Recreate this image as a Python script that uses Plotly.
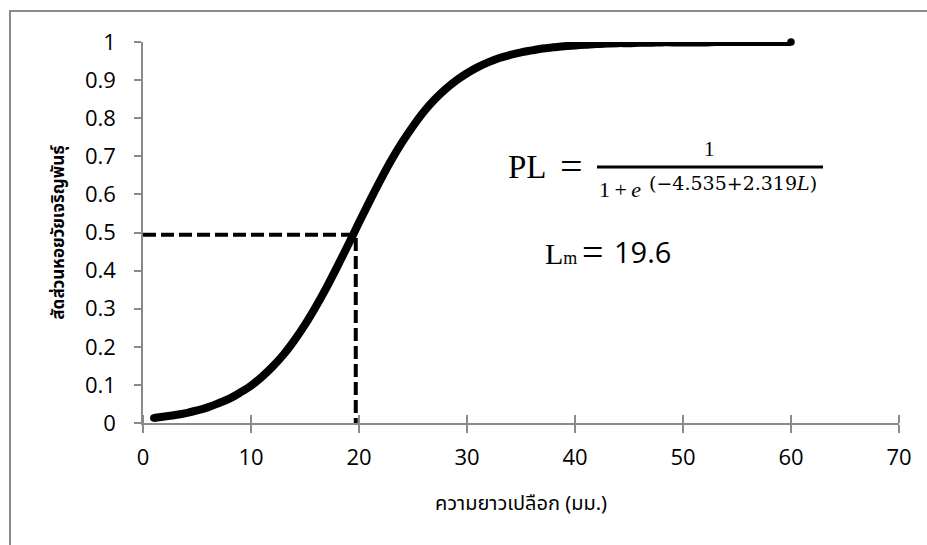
import plotly.graph_objects as go

# Shell length (mm) and proportion of mature snails
length_mm = list(range(1, 61))
prop_mature = [0.013, 0.017, 0.021, 0.026, 0.033, 0.041, 0.052, 0.064, 0.080, 0.098,
               0.121, 0.148, 0.179, 0.216, 0.258, 0.305, 0.356, 0.411, 0.468, 0.526,
               0.583, 0.638, 0.690, 0.737, 0.779, 0.817, 0.849, 0.876, 0.899, 0.918,
               0.934, 0.947, 0.958, 0.966, 0.973, 0.978, 0.983, 0.986, 0.989, 0.991,
               0.993, 0.995, 0.996, 0.997, 0.997, 0.998, 0.998, 0.999, 0.999, 0.999,
               0.999, 0.999, 1.000, 1.000, 1.000, 1.000, 1.000, 1.000, 1.000, 1.000]

# L50 guide lines
guide_x = [0, 19.7, 19.7]
guide_y = [0.494, 0.494, 0]

x_ticks = [0, 10, 20, 30, 40, 50, 60, 70]
y_ticks = [0, 0.1, 0.2, 0.3, 0.4, 0.5, 0.6, 0.7, 0.8, 0.9, 1]
y_ticktext = ["0", "0.1", "0.2", "0.3", "0.4", "0.5", "0.6", "0.7", "0.8", "0.9", "1"]

x_title = "ความยาวเปลือก (มม.)"
y_title = "สัดส่วนหอยวัยเจริญพันธุ์"

GRAY = "#8a8a8a"
THAI = "Noto Sans Thai, Tahoma, Leelawadee UI, sans-serif"
SERIF = "Liberation Serif, Times New Roman, serif"
TICKFONT = dict(family="Open Sans, sans-serif", size=22, color="#000")

W, H = 927, 545
L, R, T, B = 143, 28, 42, 122
pw, ph = W - L - R, H - T - B


def fx(px):
    return (px - L) / pw


def fy(py):
    return (H - B - py) / ph


fig = go.Figure()
fig.add_trace(go.Scatter(x=guide_x, y=guide_y, mode="lines",
                         line=dict(color="black", width=4, dash="13px,5px"),
                         showlegend=False, hoverinfo="skip"))
fig.add_trace(go.Scatter(x=length_mm, y=prop_mature, mode="lines",
                         line=dict(color="black", width=8, shape="spline"),
                         cliponaxis=False, showlegend=False))
# round caps at both ends of the curve
fig.add_trace(go.Scatter(x=[length_mm[0], length_mm[-1]],
                         y=[prop_mature[0], prop_mature[-1]], mode="markers",
                         marker=dict(color="black", size=7.5, line=dict(width=0)),
                         cliponaxis=False, showlegend=False, hoverinfo="skip"))
fig.add_trace(go.Scatter(x=[None], y=[None], xaxis="x2", showlegend=False,
                         hoverinfo="skip"))

ann = [
    dict(text="PL", x=fx(549), y=fy(167), xanchor="right", yanchor="middle",
         font=dict(family=SERIF, size=33, color="#000")),
    dict(text="=", x=fx(571.5), y=fy(166), xanchor="center", yanchor="middle",
         font=dict(family=SERIF, size=40, color="#000")),
    dict(text="1", x=fx(709), y=fy(149), xanchor="center", yanchor="middle",
         font=dict(family=SERIF, size=21, color="#000")),
    dict(text="1\u2009+\u2009<i>e</i>", x=fx(597), y=fy(189), xanchor="left",
         yanchor="middle", font=dict(family=SERIF, size=22, color="#000")),
    dict(text="(−4.535+2.319<i>L</i>)", x=fx(647), y=fy(183), xanchor="left",
         yanchor="middle", font=dict(family="DejaVu Serif, serif", size=19, color="#000")),
    dict(text="L<span style='font-size:18px'>m</span>", x=fx(543), y=fy(253),
         xanchor="left", yanchor="middle", font=dict(family=SERIF, size=30, color="#000")),
    dict(text="=", x=fx(592), y=fy(252), xanchor="center", yanchor="middle",
         font=dict(family=SERIF, size=38, color="#000")),
    dict(text="19.6", x=fx(612), y=fy(251), xanchor="left", yanchor="middle",
         font=dict(family="Open Sans, sans-serif", size=29, color="#000")),
]
for a in ann:
    a.update(xref="paper", yref="paper", showarrow=False)

shapes = [
    dict(type="rect", xref="paper", yref="paper", x0=fx(10), x1=fx(940),
         y0=fy(560), y1=fy(11), line=dict(color=GRAY, width=2), layer="below"),
    dict(type="line", xref="paper", yref="paper", x0=fx(597), x1=fx(823),
         y0=fy(167), y1=fy(167), line=dict(color="black", width=3)),
]

fig.update_layout(
    width=W, height=H,
    margin=dict(l=L, r=R, t=T, b=B, autoexpand=False),
    paper_bgcolor="white", plot_bgcolor="white",
    annotations=ann, shapes=shapes,
    xaxis=dict(range=[0, 70], tickvals=x_ticks, ticks="outside", ticklen=8,
               tickwidth=1.5, tickcolor=GRAY, showline=True, linecolor=GRAY,
               linewidth=1.5, showgrid=False, zeroline=False, tickfont=TICKFONT,
               ticklabelstandoff=6, automargin=False,
               title=dict(text=x_title, standoff=26,
                          font=dict(family=THAI, size=20, color="#000"))),
    xaxis2=dict(range=[0, 70], overlaying="x", anchor="free", position=0,
                side="top", tickvals=x_ticks, ticks="outside", ticklen=8,
                tickwidth=1.5, tickcolor=GRAY, showticklabels=False,
                showline=False, showgrid=False, zeroline=False),
    yaxis=dict(range=[0, 1], tickvals=y_ticks, ticktext=y_ticktext,
               ticks="outside", ticklen=7, tickwidth=1.5, tickcolor=GRAY,
               showline=True, linecolor=GRAY, linewidth=1.5, showgrid=False,
               zeroline=False, tickfont=TICKFONT, ticklabelstandoff=14,
               automargin=False,
               title=dict(text="<b>" + y_title + "</b>", standoff=16,
                          font=dict(family=THAI, size=17, color="#000"))),
)

fig.write_html("out.html")
